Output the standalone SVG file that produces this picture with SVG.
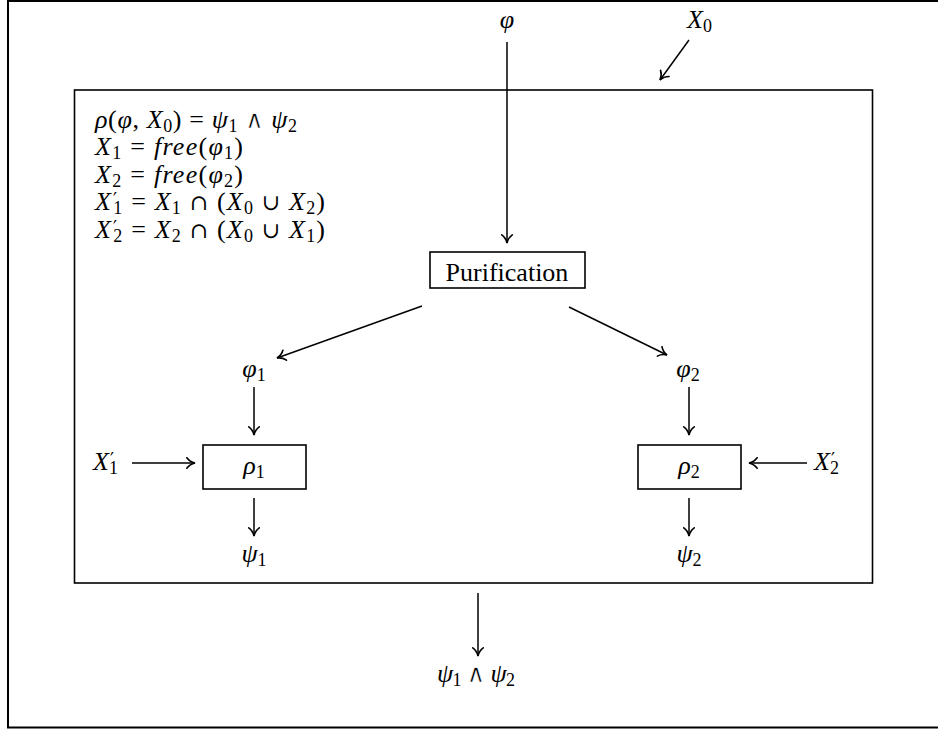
<svg xmlns="http://www.w3.org/2000/svg" width="938" height="730" viewBox="0 0 938 730">
<defs>
<style>
text{font-family:"Liberation Serif","DejaVu Serif",serif;font-size:26px;fill:#000}
.i{font-style:italic}
.s{font-size:18px;font-style:normal}
.p{font-family:"DejaVu Serif",serif;font-size:18px;font-style:normal}
.op{font-family:"DejaVu Serif",serif;font-size:22px;font-style:normal}
.and{font-family:"DejaVu Serif",serif;font-size:25px;font-style:normal;stroke:#fff;stroke-width:0.6}
.box{fill:#fff;stroke:#000;stroke-width:1.6}
.ln{fill:none;stroke:#000;stroke-width:1.5}
</style>
<marker id="ah" markerUnits="userSpaceOnUse" markerWidth="14" markerHeight="14" refX="0" refY="0" viewBox="-8 -6 10 12" orient="auto" overflow="visible">
<path d="M-7,-4.5 C-5,-1.8 -2,-0.4 0,0 C-2,0.4 -5,1.8 -7,4.5" fill="none" stroke="#000" stroke-width="1.4" stroke-linecap="round"/>
</marker>
</defs>
<rect x="8" y="1" width="940" height="726.5" fill="#fff" stroke="#000" stroke-width="2"/>
<g id="outer-box"><rect x="74.5" y="90" width="798" height="493" fill="none" stroke="#000" stroke-width="1.6"/></g>
<g id="equations">
<text x="95" y="128" textLength="202" lengthAdjust="spacing"><tspan class="i">ρ</tspan>(<tspan class="i">φ</tspan>, <tspan class="i">X</tspan><tspan class="s" dy="4">0</tspan><tspan dy="-4">) = </tspan><tspan class="i">ψ</tspan><tspan class="s" dy="4">1</tspan><tspan dy="-4"> </tspan><tspan class="and">∧</tspan> <tspan class="i">ψ</tspan><tspan class="s" dy="4">2</tspan></text>
<text x="95" y="155" textLength="148" lengthAdjust="spacing"><tspan class="i">X</tspan><tspan class="s" dy="4">1</tspan><tspan dy="-4"> = </tspan><tspan class="i">free</tspan>(<tspan class="i">φ</tspan><tspan class="s" dy="4">1</tspan><tspan dy="-4">)</tspan></text>
<text x="95" y="182.5" textLength="148" lengthAdjust="spacing"><tspan class="i">X</tspan><tspan class="s" dy="4">2</tspan><tspan dy="-4"> = </tspan><tspan class="i">free</tspan>(<tspan class="i">φ</tspan><tspan class="s" dy="4">2</tspan><tspan dy="-4">)</tspan></text>
<text x="95" y="210" textLength="230" lengthAdjust="spacing"><tspan class="i">X</tspan><tspan class="p" dx="1" dy="-4">′</tspan><tspan class="s" dx="-5" dy="8">1</tspan><tspan dy="-4"> = </tspan><tspan class="i">X</tspan><tspan class="s" dy="4">1</tspan><tspan dy="-4"> </tspan><tspan class="op">∩</tspan> (<tspan class="i">X</tspan><tspan class="s" dy="4">0</tspan><tspan dy="-4"> </tspan><tspan class="op">∪</tspan> <tspan class="i">X</tspan><tspan class="s" dy="4">2</tspan><tspan dy="-4">)</tspan></text>
<text x="95" y="237.5" textLength="230" lengthAdjust="spacing"><tspan class="i">X</tspan><tspan class="p" dx="1" dy="-4">′</tspan><tspan class="s" dx="-5" dy="8">2</tspan><tspan dy="-4"> = </tspan><tspan class="i">X</tspan><tspan class="s" dy="4">2</tspan><tspan dy="-4"> </tspan><tspan class="op">∩</tspan> (<tspan class="i">X</tspan><tspan class="s" dy="4">0</tspan><tspan dy="-4"> </tspan><tspan class="op">∪</tspan> <tspan class="i">X</tspan><tspan class="s" dy="4">1</tspan><tspan dy="-4">)</tspan></text>
</g>
<g id="phi-in"><text x="507" y="28" text-anchor="middle" class="i">φ</text></g>
<g id="x0-in"><text x="687" y="28" class="i">X<tspan class="s" dy="4">0</tspan></text></g>
<g id="purification"><rect class="box" x="430" y="252" width="155" height="36"/><text x="507" y="281" text-anchor="middle">Purification</text></g>
<g id="phi1"><text x="254" y="377" text-anchor="middle"><tspan class="i">φ</tspan><tspan class="s" dy="4">1</tspan></text></g>
<g id="phi2"><text x="688" y="377" text-anchor="middle"><tspan class="i">φ</tspan><tspan class="s" dy="4">2</tspan></text></g>
<g id="rho1"><rect class="box" x="203" y="445" width="103" height="44"/><text x="254" y="474" text-anchor="middle"><tspan class="i">ρ</tspan><tspan class="s" dy="4">1</tspan></text></g>
<g id="rho2"><rect class="box" x="638" y="445" width="103" height="44"/><text x="689" y="474" text-anchor="middle"><tspan class="i">ρ</tspan><tspan class="s" dy="4">2</tspan></text></g>
<g id="x1p"><text x="93" y="470"><tspan class="i">X</tspan><tspan class="p" dx="1" dy="-4">′</tspan><tspan class="s" dx="-5" dy="8">1</tspan></text></g>
<g id="x2p"><text x="814" y="470"><tspan class="i">X</tspan><tspan class="p" dx="1" dy="-4">′</tspan><tspan class="s" dx="-5" dy="8">2</tspan></text></g>
<g id="psi1"><text x="254" y="562" text-anchor="middle"><tspan class="i">ψ</tspan><tspan class="s" dy="4">1</tspan></text></g>
<g id="psi2"><text x="689" y="562" text-anchor="middle"><tspan class="i">ψ</tspan><tspan class="s" dy="4">2</tspan></text></g>
<g id="result"><text x="437" y="682" textLength="78" lengthAdjust="spacing"><tspan class="i">ψ</tspan><tspan class="s" dy="4">1</tspan><tspan dy="-4"> </tspan><tspan class="and">∧</tspan> <tspan class="i">ψ</tspan><tspan class="s" dy="4">2</tspan></text></g>
<g id="connectors">
<line class="ln" x1="507" y1="42" x2="507" y2="243" marker-end="url(#ah)"/>
<line class="ln" x1="689" y1="40" x2="660" y2="80" marker-end="url(#ah)"/>
<line class="ln" x1="422" y1="306" x2="277" y2="358" marker-end="url(#ah)"/>
<line class="ln" x1="569" y1="307" x2="667" y2="355" marker-end="url(#ah)"/>
<line class="ln" x1="254" y1="387" x2="254" y2="435" marker-end="url(#ah)"/>
<line class="ln" x1="689" y1="387" x2="689" y2="435" marker-end="url(#ah)"/>
<line class="ln" x1="132" y1="463" x2="195" y2="463" marker-end="url(#ah)"/>
<line class="ln" x1="807" y1="463" x2="749" y2="463" marker-end="url(#ah)"/>
<line class="ln" x1="254" y1="498" x2="254" y2="536" marker-end="url(#ah)"/>
<line class="ln" x1="689" y1="498" x2="689" y2="536" marker-end="url(#ah)"/>
<line class="ln" x1="478" y1="593" x2="478" y2="656" marker-end="url(#ah)"/>
</g>
</svg>
